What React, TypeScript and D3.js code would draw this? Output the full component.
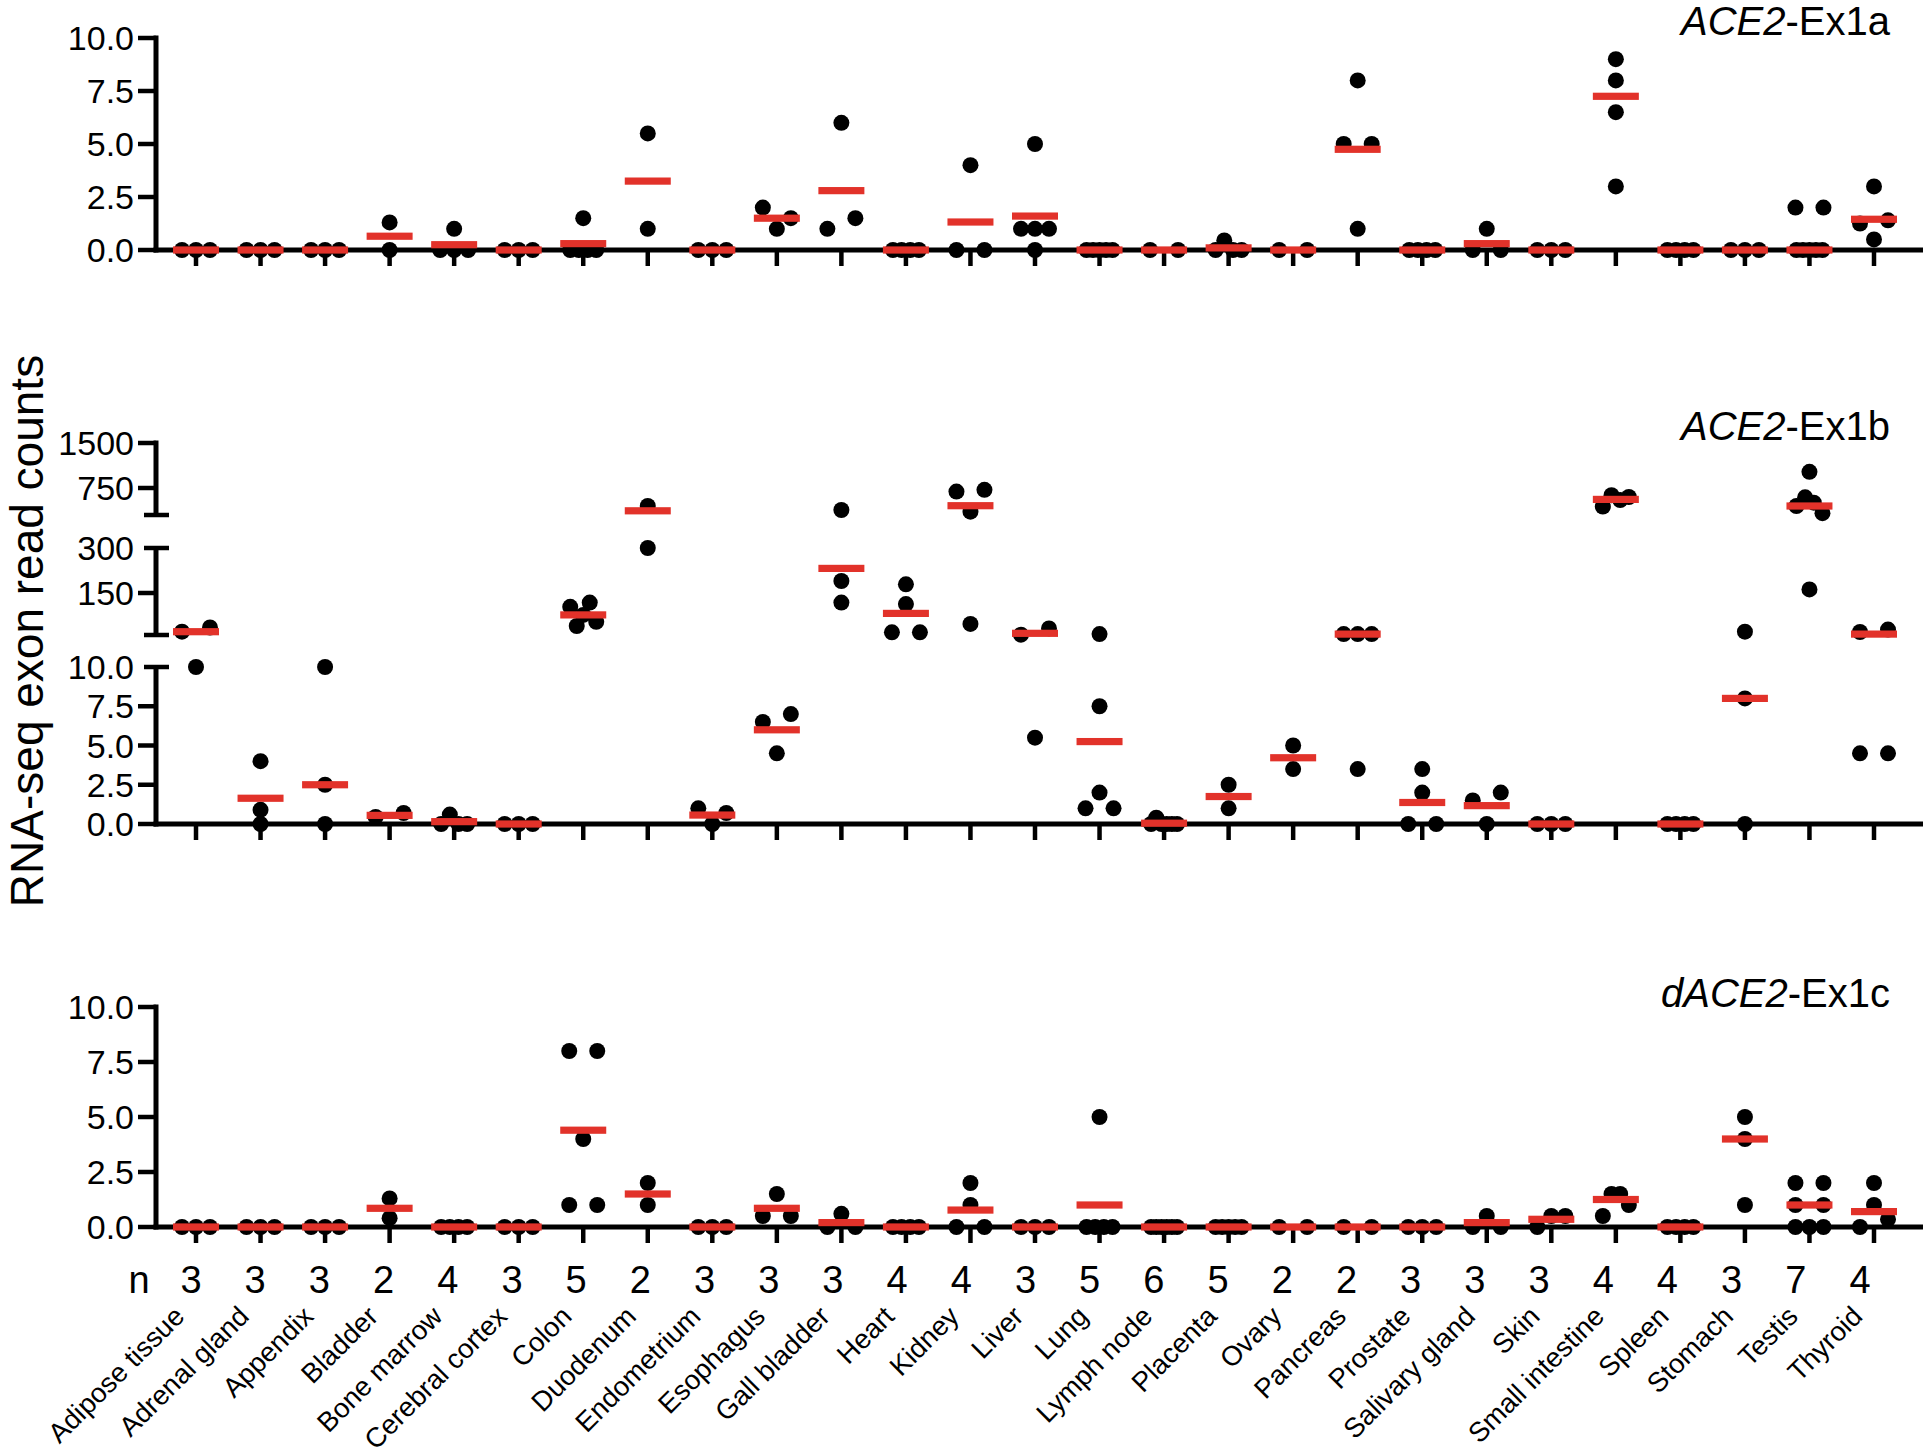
import React from "react";
import * as d3 from "d3";

const categories = [
  "Adipose tissue", "Adrenal gland", "Appendix", "Bladder", "Bone marrow", "Cerebral cortex",
  "Colon", "Duodenum", "Endometrium", "Esophagus", "Gall bladder", "Heart", "Kidney", "Liver",
  "Lung", "Lymph node", "Placenta", "Ovary", "Pancreas", "Prostate", "Salivary gland", "Skin",
  "Small intestine", "Spleen", "Stomach", "Testis", "Thyroid",
];
const nCounts = [3, 3, 3, 2, 4, 3, 5, 2, 3, 3, 3, 4, 4, 3, 5, 6, 5, 2, 2, 3, 3, 3, 4, 4, 3, 7, 4];

// ACE2-Ex1a
const ex1aValues: number[][] = [
  [0, 0, 0], [0, 0, 0], [0, 0, 0], [1.3, 0], [1, 0, 0, 0], [0, 0, 0], [1.5, 0, 0, 0, 0], [5.5, 1],
  [0, 0, 0], [2, 1, 1.5], [6, 1, 1.5], [0, 0, 0, 0], [4, 0, 0], [5, 1, 1, 1, 0], [0, 0, 0, 0, 0],
  [0, 0], [0, 0.45, 0, 0], [0, 0], [8, 5, 5, 1], [0, 0, 0, 0], [1, 0, 0], [0, 0, 0], [9, 8, 6.5, 3],
  [0, 0, 0, 0], [0, 0, 0], [2, 2, 0, 0, 0, 0, 0], [3, 1.25, 1.4, 0.5],
];
const ex1aCentral = [0, 0, 0, 0.65, 0.25, 0, 0.3, 3.25, 0, 1.5, 2.8, 0, 1.32, 1.6, 0, 0, 0.1, 0, 4.75, 0, 0.3, 0, 7.25, 0, 0, 0, 1.45];

// ACE2-Ex1b
const ex1bValues: number[][] = [
  [21, 10, 35], [4, 0.9, 0], [10, 2.5, 0], [0.45, 0.7], [0, 0.6, 0, 0], [0, 0, 0], [104, 40, 77, 118, 54],
  [450, 300], [1, 0, 0.7], [6.5, 7, 4.5], [383, 190, 118], [179, 113, 19, 19], [690, 720, 355, 47],
  [11, 32, 5.5], [13, 7.5, 2, 1, 1], [0, 0.4, 0, 0, 0, 0], [2.5, 1], [5, 3.5], [13, 13, 13, 3.5],
  [3.5, 2, 0, 0], [1.5, 2, 0], [0, 0, 0], [440, 630, 550, 600], [0, 0, 0, 0], [21, 8, 0],
  [1020, 450, 595, 505, 330, 162], [20, 28, 4.5, 4.5],
];
const ex1bCentral = [21, 1.64, 2.5, 0.55, 0.15, 0, 77, 370, 0.57, 6, 232, 82, 455, 15.6, 5.25, 0.05, 1.75, 4.22, 13, 1.37, 1.17, 0, 560, 0, 8, 450, 13];

// dACE2-Ex1c
const ex1cValues: number[][] = [
  [0, 0, 0], [0, 0, 0], [0, 0, 0], [1.3, 0.4], [0, 0, 0, 0], [0, 0, 0], [8, 8, 4, 1, 1], [2, 1],
  [0, 0, 0], [1.5, 0.5, 0.5], [0.6, 0, 0], [0, 0, 0, 0], [2, 1, 0, 0], [0, 0, 0], [5, 0, 0, 0, 0],
  [0, 0, 0, 0, 0, 0], [0, 0, 0, 0, 0], [0, 0], [0, 0], [0, 0, 0], [0, 0.5, 0], [0, 0.5, 0.5],
  [0.5, 1.5, 1.5, 1], [0, 0, 0, 0], [5, 4, 1], [2, 2, 1, 1, 0, 0, 0], [2, 1, 0, 0.35],
];
const ex1cCentral = [0, 0, 0, 0.85, 0, 0, 4.4, 1.5, 0, 0.85, 0.2, 0, 0.77, 0, 1.0, 0, 0, 0, 0, 0, 0.2, 0.35, 1.25, 0, 4.0, 1.0, 0.7];

const linearTicks = [0, 2.5, 5, 7.5, 10];
const ex1bMidTicks = [150, 300];
const ex1bTopTicks = [750, 1500];

const FONT = "'Liberation Sans', Arial, Helvetica, sans-serif";
const RED = "#e2322a";
const AXIS_X = 156;
const AXIS_END = 1923;
const AXIS_W = 5;

const x = d3.scalePoint<string>().domain(categories).range([196, 1874]);
const nx = d3.scalePoint<string>().domain(categories).range([191, 1860]);

type Seg = {
  domain: [number, number];
  range: [number, number];
  ticks: number[];
  fmt: (v: number) => string;
  capTop?: boolean;
  capBottom?: boolean;
};

type PanelDef = {
  key: string;
  segments: Seg[];
  values: number[][];
  central: number[];
  italic: string;
  rest: string;
  titleY: number;
};

const f1 = d3.format(".1f");
const f0 = d3.format("d");

const panels: PanelDef[] = [
  {
    key: "a",
    segments: [{ domain: [0, 10], range: [250, 38], ticks: linearTicks, fmt: f1 }],
    values: ex1aValues,
    central: ex1aCentral,
    italic: "ACE2",
    rest: "-Ex1a",
    titleY: 35,
  },
  {
    key: "b",
    segments: [
      { domain: [0, 10], range: [824, 667], ticks: linearTicks, fmt: f1, capTop: true },
      { domain: [10, 300], range: [635, 548], ticks: ex1bMidTicks, fmt: f0, capTop: true, capBottom: true },
      { domain: [300, 1500], range: [515, 443], ticks: ex1bTopTicks, fmt: f0, capBottom: true },
    ],
    values: ex1bValues,
    central: ex1bCentral,
    italic: "ACE2",
    rest: "-Ex1b",
    titleY: 440,
  },
  {
    key: "c",
    segments: [{ domain: [0, 10], range: [1227, 1007], ticks: linearTicks, fmt: f1 }],
    values: ex1cValues,
    central: ex1cCentral,
    italic: "dACE2",
    rest: "-Ex1c",
    titleY: 1007,
  },
];

function spreadOffsets(ys: number[]): number[] {
  const order = ys.map((_, i) => i).sort((a, b) => ys[a] - ys[b]);
  const clusters: number[][] = [];
  order.forEach((idx, k) => {
    if (k === 0 || ys[idx] - ys[order[k - 1]] > 11.5) clusters.push([idx]);
    else clusters[clusters.length - 1].push(idx);
  });
  const out = new Array(ys.length).fill(0);
  clusters.forEach((c) => {
    const m = c.slice().sort((a, b) => a - b);
    const k = m.length;
    let offs: number[];
    if (k === 1) offs = [0];
    else if (k === 2) offs = [-14, 14];
    else if (k === 3) offs = [-14, 0, 14];
    else offs = d3.range(k).map((j) => -13 + (26 * j) / (k - 1));
    m.forEach((idx, j) => (out[idx] = offs[j]));
  });
  return out;
}

function Panel({ p }: { p: PanelDef }) {
  const segs = p.segments.map((s) => ({ ...s, scale: d3.scaleLinear().domain(s.domain).range(s.range) }));
  const yOf = (v: number) => {
    for (const s of segs) if (v >= s.domain[0] && v <= s.domain[1]) return s.scale(v);
    return segs[segs.length - 1].scale(v);
  };
  const base = segs[0].range[0];
  return (
    <g>
      {segs.map((s, si) => (
        <g key={"s" + si}>
          <line x1={AXIS_X} x2={AXIS_X} y1={s.range[0] + (si === 0 ? AXIS_W / 2 : 0)} y2={s.range[1] - (s.capTop ? 0 : AXIS_W / 2)} stroke="#000" strokeWidth={AXIS_W} />
          {s.ticks.map((t) => {
            const ty = s.scale(t);
            const isCap = s.capTop && t === s.domain[1];
            return (
              <g key={t}>
                {!isCap && <line x1={AXIS_X - 18} x2={AXIS_X} y1={ty} y2={ty} stroke="#000" strokeWidth={4.5} />}
                <text x={AXIS_X - 22} y={ty} dy="0.36em" textAnchor="end" fontSize={34} fontFamily={FONT} fill="#000">
                  {s.fmt(t)}
                </text>
              </g>
            );
          })}
          {s.capTop && <line x1={AXIS_X - 12} x2={AXIS_X + 13} y1={s.range[1]} y2={s.range[1]} stroke="#000" strokeWidth={4.5} />}
          {s.capBottom && <line x1={AXIS_X - 12} x2={AXIS_X + 13} y1={s.range[0]} y2={s.range[0]} stroke="#000" strokeWidth={4.5} />}
        </g>
      ))}
      <line x1={AXIS_X - AXIS_W / 2} x2={AXIS_END} y1={base} y2={base} stroke="#000" strokeWidth={AXIS_W} />
      {categories.map((c) => (
        <line key={c} x1={x(c)!} x2={x(c)!} y1={base} y2={base + 16} stroke="#000" strokeWidth={4.5} />
      ))}
      {categories.map((c, i) => {
        const vals = p.values[i];
        const ys = vals.map(yOf);
        const offs = spreadOffsets(ys);
        return (
          <g key={"d" + c}>
            {vals.map((v, j) => (
              <circle key={j} cx={x(c)! + offs[j]} cy={ys[j]} r={8} fill="#000" />
            ))}
          </g>
        );
      })}
      {categories.map((c, i) => (
        <rect key={"m" + c} x={x(c)! - 23} y={yOf(p.central[i]) - 3.6} width={46} height={7.2} fill={RED} />
      ))}
      <text x={1890} y={p.titleY} textAnchor="end" fontSize={40} fontFamily={FONT} fill="#000">
        <tspan fontStyle="italic">{p.italic}</tspan>
        <tspan>{p.rest}</tspan>
      </text>
    </g>
  );
}

export default function App() {
  return (
    <svg
      width={1931}
      height={1450}
      viewBox="0 0 1931 1450"
      style={{ position: "absolute", left: 0, top: 0, display: "block", background: "#fff" }}
    >
      <rect x={0} y={0} width={1931} height={1450} fill="#fff" />
      {panels.map((p) => (
        <Panel key={p.key} p={p} />
      ))}
      <text transform="translate(43,631) rotate(-90)" textAnchor="middle" fontSize={46} fontFamily={FONT} fill="#000">
        RNA-seq exon read counts
      </text>
      <text x={139} y={1293} textAnchor="middle" fontSize={38} fontFamily={FONT} fill="#000">
        n
      </text>
      {categories.map((c, i) => (
        <text key={"n" + c} x={nx(c)!} y={1293} textAnchor="middle" fontSize={38} fontFamily={FONT} fill="#000">
          {nCounts[i]}
        </text>
      ))}
      {categories.map((c) => (
        <text
          key={"l" + c}
          transform={`translate(${x(c)! - 10},1318) rotate(-45)`}
          textAnchor="end"
          fontSize={27.5}
          fontFamily={FONT}
          fill="#000"
        >
          {c}
        </text>
      ))}
    </svg>
  );
}
